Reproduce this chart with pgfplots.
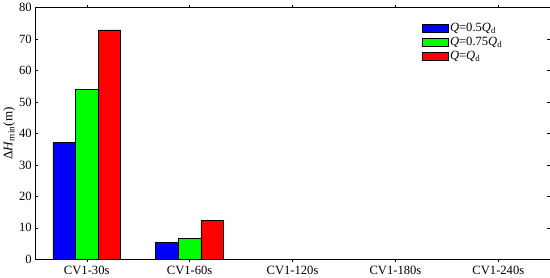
\documentclass[border=0pt]{standalone}
\usepackage{fontspec}
\setmainfont{Liberation Serif}
\usepackage{pgfplots}
\pgfplotsset{compat=1.18}

\definecolor{qblue}{RGB}{0,0,255}
\definecolor{qgreen}{RGB}{0,255,0}
\definecolor{qred}{RGB}{255,0,0}

\begin{document}
\begin{tikzpicture}
  \begin{axis}[
    scale only axis,
    width=509bp, height=249bp,
    ybar=0pt,
    bar width=0.22,
    xmin=-0.5, xmax=4.5,
    ymin=0, ymax=80,
    ytick={0,10,...,80},
    xtick={0,1,2,3,4},
    xticklabels={CV1-30s,CV1-60s,CV1-120s,CV1-180s,CV1-240s},
    major tick length=3pt,
    tick style={black, thin},
    axis line style={black, thin},
    /pgf/number format/assume math mode=true,
    tick label style={font=\fontsize{12.5}{14}\selectfont},
    ylabel={Δ\textit{H}\textsubscript{min}(m)},
    ylabel style={font=\fontsize{13}{14}\selectfont, yshift=-3pt},
    legend style={draw=none, fill=none, at={(0.75,0.95)}, anchor=north west,
      font=\fontsize{12.5}{13}\selectfont, row sep=0pt, inner sep=1pt},
    legend cell align=left,
    legend image code/.code={
      \draw[#1, draw=black] (0cm,-0.13cm) rectangle (0.88cm,0.13cm);
    },
  ]
    \addplot[fill=qblue, draw=black, bar shift=-0.22] coordinates {
      (0,37.1) (1,5.3) (2,0) (3,0) (4,0)
    };
    \addplot[fill=qgreen, draw=black, bar shift=0] coordinates {
      (0,54.1) (1,6.6) (2,0) (3,0) (4,0)
    };
    \addplot[fill=qred, draw=black, bar shift=0.22] coordinates {
      (0,72.9) (1,12.3) (2,0) (3,0) (4,0)
    };
    \legend{\textit{Q}=0.5\textit{Q}\textsubscript{d},
            \textit{Q}=0.75\textit{Q}\textsubscript{d},
            \textit{Q}=\textit{Q}\textsubscript{d}}
  \end{axis}
\end{tikzpicture}
\end{document}
